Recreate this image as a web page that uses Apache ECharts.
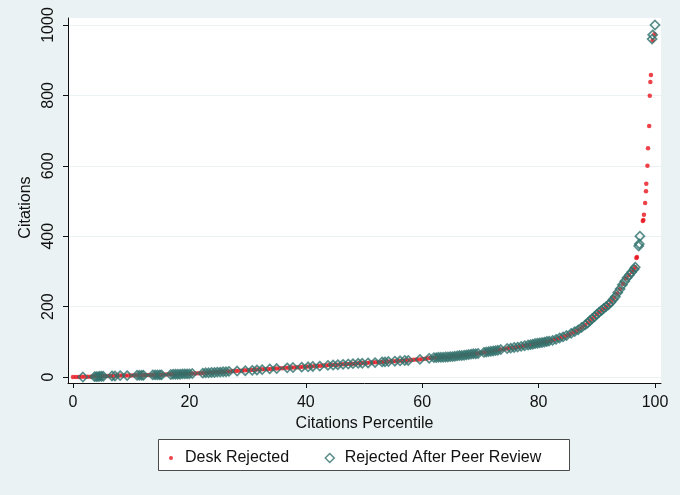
<!DOCTYPE html>
<html><head><meta charset="utf-8">
<script src="https://cdn.jsdelivr.net/npm/echarts@6/dist/echarts.min.js"></script>
<style>html,body{margin:0;padding:0;background:#EAF2F3}#c{width:680px;height:495px}</style>
</head><body><div id="c"></div>
<script>
const xTicks = [0, 20, 40, 60, 80, 100];
const yTicks = [0, 200, 400, 600, 800, 1000];
const seriesNames = ['Desk Rejected', 'Rejected After Peer Review'];
const axisTitles = ['Citations Percentile', 'Citations'];

// [percentile, citations]
const deskRejected = [
[0,0],[0.5,0],[1,0],[1.5,1],[2,1],[2.5,1],[3,1],[3.5,2],[4,2],[4.5,2],[5,2],[5.5,3],[6,3],[6.5,3],[7,3],[7.5,4],[8,4],[8.5,4],[9,4],[9.5,4],
[10,4],[10.5,5],[11,5],[11.5,5],[12,5],[12.5,6],[13,6],[13.5,6],[14,6],[14.5,6],[15,6],[15.5,7],[16,7],[16.5,8],[17,8],[17.5,8],[18,8],[18.5,9],[19,9],[19.5,9],
[20,9],[20.5,10],[21,10],[21.5,11],[22,11],[22.5,12],[23,12],[23.5,13],[24,13],[24.5,14],[25,14],[25.5,15],[26,15],[26.5,16],[27,16],[27.5,17],[28,17],[28.5,18],[29,18],[29.5,19],
[30,19],[30.5,20],[31,20],[31.5,21],[32,21],[32.5,22],[33,22],[33.5,23],[34,23],[34.5,24],[35,24],[35.5,25],[36,25],[36.5,26],[37,26],[37.5,27],[38,27],[38.5,28],[39,28],[39.5,29],
[40,29],[40.5,30],[41,30],[41.5,31],[42,31],[42.5,32],[43,33],[43.5,33],[44,34],[44.5,34],[45,35],[45.5,35],[46,36],[46.5,36],[47,37],[47.5,37],[48,38],[48.5,38],[49,39],[49.5,39],
[50,40],[50.5,40],[51,41],[51.5,41],[52,42],[52.5,42],[53,43],[53.5,43],[54,44],[54.5,44],[55,45],[55.5,45],[56,46],[56.5,46],[57,47],[57.5,47],[58,48],[58.5,49],[59,50],[59.5,50],
[60,51],[60.5,52],[61,53],[61.5,54],[62,55],[62.5,55],[63,56],[63.5,56],[64,57],[64.5,57],[65,58],[65.5,59],[66,60],[66.5,61],[67,62],[67.5,63],[68,64],[68.5,65],[69,66],[69.5,67],
[70,68],[70.5,70],[71,71],[71.5,72],[72,73],[72.5,75],[73,76],[73.5,78],[74,79],[74.5,81],[75,82],[75.5,83],[76,84],[76.5,86],[77,87],[77.5,89],[78,90],[78.5,92],[79,93],[79.5,95],
[80,96],[80.5,98],[81,99],[81.5,101],[82,102],[82.5,105],[83,107],[83.5,110],[84,113],[84.5,116],[85,119],[85.5,123],[86,127],[86.5,131],[87,136],[87.5,142],[88,148],[88.5,155],[89,163],[89.5,170],
[90,178],[90.5,185],[91,192],[91.5,198],[92,205],[92.5,215],[93,225],[93.5,237],[94,250],[94.5,265],[95,280],[95.5,289],[96,298],[96.3,305],[96.6,312],
[96.8,338],[96.9,341],[97.9,443],[98.0,446],[98.1,461],[98.3,494],[98.45,528],[98.5,549],[98.7,600],[98.8,650],[99.0,713],[99.1,799],[99.2,838],[99.3,858],[99.6,957],[99.9,974]
];

const peerReviewed = [
[1.7,0],[3.7,1],[4.0,1],[4.3,1],[4.6,2],[4.9,2],[5.2,2],[6.7,3],[7.2,3],[8.1,4],[9.3,4],[11.0,5],[11.4,5],[11.8,5],[12.1,5],[13.7,6],[14.1,6],[14.5,6],[14.9,6],[15.2,6],
[16.8,7],[17.2,8],[17.6,8],[18.0,8],[18.4,8],[18.8,9],[19.2,9],[19.6,9],[20.0,9],[20.5,10],[22.3,11],[22.8,12],[23.3,12],[23.8,13],[24.3,13],[24.8,14],[25.3,14],[25.8,15],[26.3,15],[26.8,16],
[28.2,17],[29.6,18],[30.8,19],[31.6,20],[32.5,21],[33.8,23],[35.0,24],[36.8,26],[37.8,27],[39.3,28],[40.4,29],[41.2,30],[42.4,31],[43.8,33],[44.7,34],[45.5,35],[46.4,36],[47.3,37],[48.1,38],[49.0,39],
[49.7,39],[50.7,40],[51.9,41],[53.1,43],[53.6,43],[54.2,44],[55.3,45],[56.2,46],[57.0,47],[57.6,47],[59.6,50],[61.2,53],[62.0,55],[62.4,55],[62.8,56],[63.2,56],[63.6,56],[64.0,57],[64.4,57],[64.8,58],
[65.2,58],[65.6,59],[66.0,60],[66.4,61],[66.8,61],[67.2,62],[67.6,63],[68.0,64],[68.4,65],[68.8,66],[69.2,66],[69.6,67],[70.6,70],[71.0,71],[71.4,72],[71.8,73],[72.2,74],[72.6,75],[73.0,76],[73.5,78],
[74.6,81],[75.2,82],[75.8,84],[76.4,85],[77.0,87],[77.6,89],[78.2,91],[78.6,92],[79.0,93],[79.4,95],[79.8,96],[80.2,97],[80.6,98],[81.0,99],[81.4,101],[81.8,102],[82.4,104],[83.0,107],[83.6,111],[84.2,114],
[84.8,118],[85.6,124],[86.2,129],[86.8,134],[87.4,141],[88.0,148],[88.4,153],[88.8,160],[89.2,166],[89.6,171],[90.0,178],[90.4,184],[90.8,189],[91.2,195],[91.6,200],[92.0,205],[92.4,212],[92.8,220],[93.2,228],[93.6,240],
[94.0,250],[94.4,262],[94.8,272],[95.2,282],[95.6,290],[96.0,298],[96.4,306],[96.6,312],[97.2,372],[97.3,378],[97.4,400],[99.5,960],[99.6,972],[100,1000]
];

const font = '"Liberation Sans", Arial, Helvetica, sans-serif';
const red = '#e8131b';
const teal = '#2f706c';
const chart = echarts.init(document.getElementById('c'));
chart.setOption({
  backgroundColor: '#EAF2F3',
  animation: false,
  textStyle: { fontFamily: font },
  grid: { left: 68, right: 19, top: 18, bottom: 112, show: true, backgroundColor: '#ffffff', borderWidth: 0 },
  xAxis: {
    type: 'value', min: -0.86, max: 101.03,
    axisLine: { show: true, onZero: false, lineStyle: { color: '#111', width: 1 } },
    axisTick: { show: true, length: 5, customValues: xTicks, lineStyle: { color: '#111', width: 1 } },
    axisLabel: { customValues: xTicks, margin: 12, fontSize: 16, color: '#111', fontFamily: font },
    splitLine: { show: false },
    name: axisTitles[0], nameLocation: 'middle', nameGap: 27,
    nameTextStyle: { fontSize: 16, color: '#111', fontFamily: font }
  },
  yAxis: {
    type: 'value', min: -17, max: 1019.9,
    axisLine: { show: true, onZero: false, lineStyle: { color: '#111', width: 1 } },
    axisTick: { show: true, length: 5, customValues: yTicks, lineStyle: { color: '#111', width: 1 } },
    axisLabel: { customValues: yTicks, rotate: 90, margin: 11, fontSize: 16, color: '#111', fontFamily: font,
      formatter: function (v) { return String(v); } },
    splitLine: { show: true, lineStyle: { color: '#EAF2F3', width: 1.2 } },
    name: axisTitles[1], nameLocation: 'middle', nameGap: 28,
    nameTextStyle: { fontSize: 16, color: '#111', fontFamily: font, padding: [0, 14, 0, 0] }
  },
  graphic: [{
    type: 'rect', z: 1,
    shape: { x: 158.5, y: 439.5, width: 411, height: 31 },
    style: { fill: '#ffffff', stroke: '#4a4a4a', lineWidth: 1 }
  }],
  legend: [
    { data: [{ name: seriesNames[0], icon: 'circle' }], left: 169, top: 449, itemWidth: 4, itemHeight: 4, padding: 0, z: 10,
      selectedMode: false, textStyle: { fontSize: 16, color: '#111', fontFamily: font, lineHeight: 18, padding: [0, 0, 0, 7] } },
    { data: [{ name: seriesNames[1], icon: 'diamond', itemStyle: { color: 'rgba(0,0,0,0)', borderColor: teal, borderWidth: 1.5 } }],
      left: 324.5, top: 449, itemWidth: 9, itemHeight: 9, padding: 0, z: 10,
      selectedMode: false, textStyle: { fontSize: 16, color: '#111', fontFamily: font, lineHeight: 18, padding: [0, 0, 0, 5.5] } }
  ],
  series: [
    { type: 'scatter', name: seriesNames[0], data: deskRejected, symbol: 'circle', symbolSize: 4.5,
      itemStyle: { color: red }, z: 2, silent: true },
    { type: 'scatter', name: seriesNames[1], data: peerReviewed, symbol: 'diamond', symbolSize: 9,
      itemStyle: { color: 'rgba(0,0,0,0)', borderColor: teal, borderWidth: 1.7 }, z: 3, silent: true }
  ]
});
</script></body></html>
